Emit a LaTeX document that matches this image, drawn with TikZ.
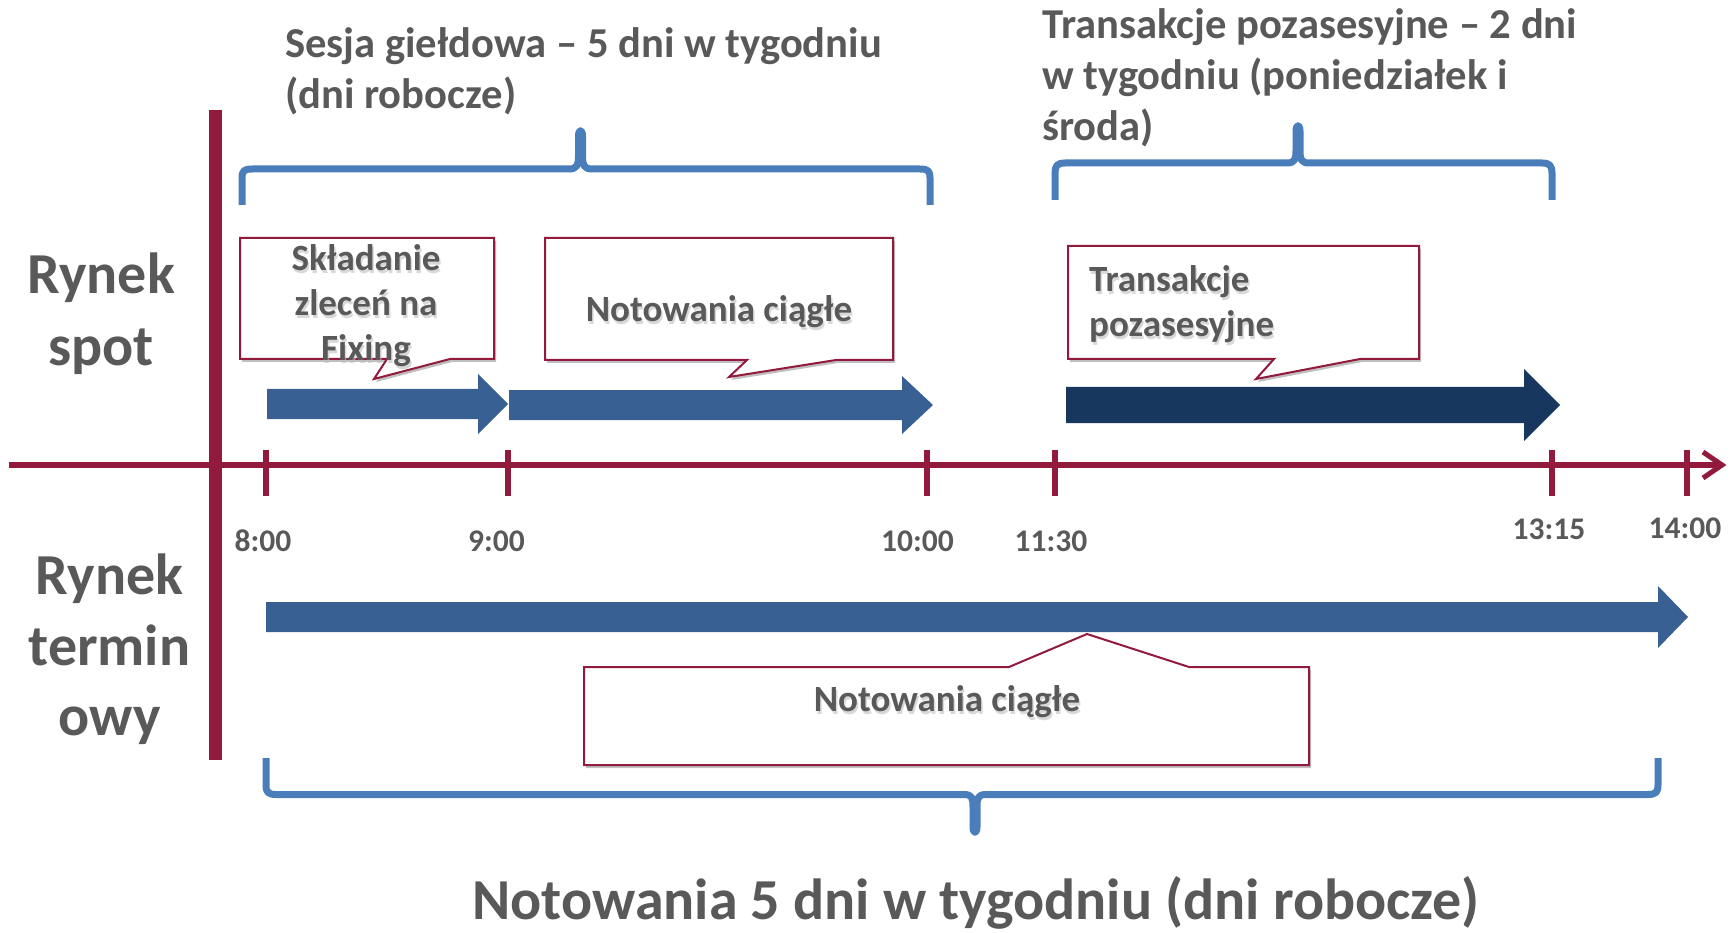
\documentclass[tikz,border=0pt]{standalone}
\usepackage{fontspec}
\setmainfont{Carlito}
\usetikzlibrary{shadows}
\definecolor{mroon}{RGB}{146,26,60}
\definecolor{txtg}{RGB}{89,89,89}
\definecolor{arrblue}{RGB}{56,96,146}
\definecolor{arrnavy}{RGB}{24,55,94}
\definecolor{brblue}{RGB}{74,126,187}
\newcommand\calloutlabel[5]{%
  \node[cltext, text=black!25, opacity=0.6, anchor=#3, #4] (#1s) at ([shift={(1.5,3)}]#2) {#5};
  \node[cltext, anchor=#3, #4] (#1) at (#2) {#5};
}
\tikzset{
  lbl/.style={text=txtg, inner sep=0pt},
  cltext/.style={lbl, font=\fontsize{37}{45}\selectfont\bfseries},
  ticklbl/.style={lbl, font=\fontsize{31.5}{38}\selectfont\bfseries, anchor=base},
  toplbl/.style={lbl, font=\fontsize{42.6}{51}\selectfont\bfseries, anchor=north west, align=left},
  biglbl/.style={lbl, font=\fontsize{58}{71}\selectfont\bfseries},
  brace/.style={brblue, line width=7, line join=round},
  tickmark/.style={mroon, line width=6},
  callout/.style={draw=mroon, fill=white, line width=2,
    drop shadow={shadow xshift=2pt, shadow yshift=-3pt, opacity=0.25, fill=black}},
}
\begin{document}
\begin{tikzpicture}[x=1pt,y=-1pt]
\useasboundingbox (0,0) rectangle (1733,933);

% braces
\draw[brace] (242,205) -- (242,178) .. controls (242,171) and (244,169) .. (252,169) -- (569,169) .. controls (577,169) and (578.5,165) .. (578.5,156) -- (578.5,136) .. controls (578.5,129) and (582.5,129) .. (582.5,136) -- (582.5,156) .. controls (582.5,165) and (584,169) .. (592,169) -- (920,169) .. controls (928,169) and (930,171) .. (930,178) -- (930,205);
\draw[brace] (1055,200) -- (1055,173) .. controls (1055,166) and (1057,163) .. (1065,163) -- (1287,163) .. controls (1295,163) and (1296,159) .. (1296,150) -- (1296,131) .. controls (1296,124) and (1300,124) .. (1300,131) -- (1300,150) .. controls (1300,159) and (1301,163) .. (1309,163) -- (1542,163) .. controls (1550,163) and (1552,166) .. (1552,173) -- (1552,200);
\draw[brace] (266,758) -- (266,785) .. controls (266,792) and (268,794.5) .. (276,794.5) -- (964,794.5) .. controls (972,794.5) and (973,798) .. (973,807) -- (973,827) .. controls (973,834) and (977,834) .. (977,827) -- (977,807) .. controls (977,798) and (978,794.5) .. (986,794.5) -- (1648,794.5) .. controls (1656,794.5) and (1658,792) .. (1658,785) -- (1658,758);

% vertical divider
\draw[mroon, line width=13] (215.5,110) -- (215.5,760);

% time axis
\draw[mroon, line width=5.5] (9,465) -- (1721,465);
\draw[mroon, line width=5, line join=miter] (1703,452) -- (1722,465) -- (1703,478);
\foreach \x/\n in {266/t8, 508/t9, 927/t10, 1055/t1130, 1552/t1315, 1687/t14}
  \draw[tickmark] (\x,450) -- (\x,496) coordinate (\n);

% tick labels
\node[ticklbl] (l8) at (263,551) {8:00};
\node[ticklbl] (l9) at (496.5,551) {9:00};
\node[ticklbl] (l10) at (917.5,551) {10:00};
\node[ticklbl] (l1130) at (1051,551) {11:30};
\node[ticklbl] (l1315) at (1549,539) {13:15};
\node[ticklbl] (l14) at (1685,538) {14:00};

% block arrows
\fill[arrblue] (267,389) -- (478,389) -- (478,374) -- (508,404) -- (478,434) -- (478,419) -- (267,419) -- cycle;
\fill[arrblue] (509,390) -- (902,390) -- (902,376) -- (933,405) -- (902,434) -- (902,420) -- (509,420) -- cycle;
\fill[arrnavy] (1066,387) -- (1524,387) -- (1524,369) -- (1560,405) -- (1524,441) -- (1524,423) -- (1066,423) -- cycle;
\fill[arrblue] (266,602) -- (1658,602) -- (1658,586) -- (1688,617) -- (1658,648) -- (1658,632) -- (266,632) -- cycle;

% callouts
\path[callout] (240,238) -- (494,238) -- (494,359) -- (450,359) -- (374,379) -- (387,359) -- (240,359) -- cycle;
\path[callout] (545,238) -- (893,238) -- (893,360) -- (836,360) -- (729,377) -- (747,360) -- (545,360) -- cycle;
\path[callout] (1068,246) -- (1419,246) -- (1419,359) -- (1360,359) -- (1256,379) -- (1274,359) -- (1068,359) -- cycle;
\path[callout] (584,667) -- (1009,667) -- (1087,634) -- (1189,667) -- (1309,667) -- (1309,765) -- (584,765) -- cycle;

\calloutlabel{c1}{366,238.5}{north}{align=center}{\strut Składanie\\zleceń na\\Fixing}
\calloutlabel{c2}{719,321.7}{base}{}{Notowania ciągłe}
\calloutlabel{c3}{1089,260.2}{north west}{align=left}{\strut Transakcje\\pozasesyjne}
\calloutlabel{c4}{947,711}{base}{}{Notowania ciągłe}

% headings
\node[toplbl] (sesja) at (285,21.4) {\strut Sesja giełdowa – 5 dni w tygodniu\\(dni robocze)};
\node[toplbl] (poza) at (1042,2.8) {\strut Transakcje pozasesyjne – 2 dni\\w tygodniu (poniedziałek i\\środa)};
\node[biglbl, anchor=north, align=center, font=\fontsize{58}{72}\selectfont\bfseries] (spot) at (101,242.6) {\strut Rynek\\spot};
\node[biglbl, anchor=north, align=center, font=\fontsize{58}{70.5}\selectfont\bfseries] (term) at (109.5,545.2) {\strut Rynek\\termin\\owy};
\node[biglbl, anchor=base] (notow) at (976,919) {Notowania 5 dni w tygodniu (dni robocze)};
\end{tikzpicture}
\end{document}
